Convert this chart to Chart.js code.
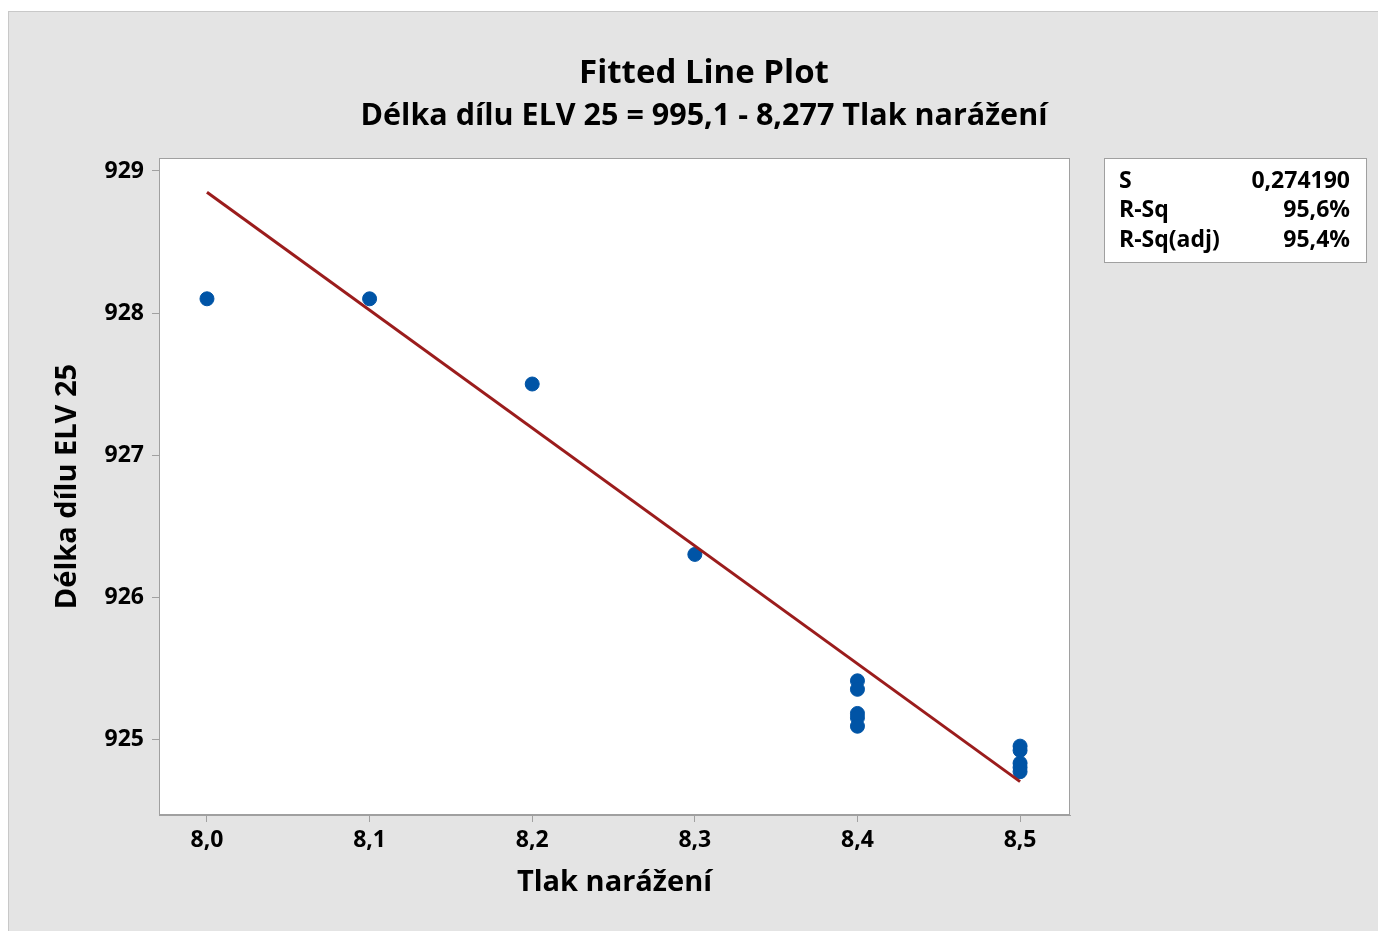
<!DOCTYPE html>
<html>
<head>
<meta charset="utf-8">
<script src="https://cdn.jsdelivr.net/npm/chart.js@4.4.1/dist/chart.umd.min.js"></script>
<style>
  body { margin: 0; background: #ffffff; }
  #frame {
    position: absolute; left: 8px; top: 11px;
    width: 1369px; height: 919px;
    background: #e4e4e4; border: 1px solid #c8c8c8;
  }
  canvas { display: block; }
</style>
</head>
<body>
<div id="frame"><canvas id="grafico" width="1369" height="919"></canvas></div>
<script>
// Datos
const puntosX = [8.0, 8.1, 8.2, 8.3, 8.4, 8.4, 8.4, 8.4, 8.4, 8.5, 8.5, 8.5, 8.5, 8.5];
const puntosY = [928.1, 928.1, 927.5, 926.3, 925.41, 925.35, 925.18, 925.15, 925.09, 924.95, 924.92, 924.83, 924.80, 924.77];

// Recta ajustada (extremos)
const rectaX = [8.0, 8.5];
const rectaY = [928.85, 924.70];

const ticksX = [8.0, 8.1, 8.2, 8.3, 8.4, 8.5];
const ticksY = [925, 926, 927, 928, 929];

const resumenEtiquetas = ['S', 'R-Sq', 'R-Sq(adj)'];
const resumenValores = ['0,274190', '95,6%', '95,4%'];

const FUENTE = '"Open Sans", "Noto Sans", sans-serif';

const fondoYMarco = {
    id: 'fondoYMarco',
    beforeDraw(chart) {
        const { ctx, chartArea: a } = chart;
        ctx.save();
        ctx.fillStyle = '#ffffff';
        ctx.fillRect(a.left, a.top, a.right - a.left, a.bottom - a.top);
        ctx.restore();
    },
    afterDraw(chart) {
        const { ctx, chartArea: a } = chart;
        ctx.save();
        ctx.strokeStyle = '#a0a0a0';
        ctx.lineWidth = 1;
        ctx.strokeRect(a.left + 0.5, a.top + 0.5, a.right - a.left - 1, a.bottom - a.top - 1);

        // titulos
        ctx.fillStyle = '#000';
        ctx.textAlign = 'center';
        ctx.textBaseline = 'middle';
        ctx.font = 'bold 33px ' + FUENTE;
        ctx.fillText('Fitted Line Plot', 695, 62);
        ctx.font = 'bold 30.5px ' + FUENTE;
        ctx.fillText('Délka dílu ELV 25 = 995,1 - 8,277 Tlak narážení', 695, 104);

        // caja resumen
        ctx.fillStyle = '#ffffff';
        ctx.fillRect(1095, 146, 262, 104);
        ctx.strokeStyle = '#a0a0a0';
        ctx.strokeRect(1095.5, 146.5, 262, 104);
        ctx.fillStyle = '#000';
        ctx.font = 'bold 23px ' + FUENTE;
        resumenEtiquetas.forEach((t, i) => {
            const y = 169 + i * 29.5;
            ctx.textAlign = 'left';
            ctx.fillText(t, 1110, y);
            ctx.textAlign = 'right';
            ctx.fillText(resumenValores[i], 1341, y);
        });
        ctx.restore();
    }
};

new Chart(document.getElementById('grafico'), {
    type: 'scatter',
    data: {
        datasets: [
            {
                label: 'Datos',
                data: puntosX.map((x, i) => ({ x: x, y: puntosY[i] })),
                backgroundColor: '#0054a6',
                borderColor: '#0054a6',
                pointRadius: 7,
                order: 2
            },
            {
                label: 'Ajuste',
                type: 'line',
                data: rectaX.map((x, i) => ({ x: x, y: rectaY[i] })),
                borderColor: '#9b1c1c',
                borderWidth: 3,
                pointRadius: 0,
                fill: false,
                order: 1
            }
        ]
    },
    options: {
        responsive: false,
        animation: false,
        layout: { padding: { left: 37, right: 308, top: 146, bottom: 27 } },
        plugins: {
            legend: { display: false },
            tooltip: { enabled: false }
        },
        scales: {
            x: {
                type: 'linear',
                min: 7.9705,
                max: 8.5307,
                afterBuildTicks: s => { s.ticks = ticksX.map(v => ({ value: v })); },
                afterFit: s => { s.height = 89; },
                grid: { drawOnChartArea: false, tickLength: 7, color: '#a0a0a0' },
                border: { display: true, color: '#a0a0a0' },
                ticks: {
                    color: '#000',
                    padding: 5,
                    font: { family: FUENTE, size: 23, weight: 'bold' },
                    callback: v => v.toFixed(1).replace('.', ',')
                },
                title: {
                    display: true,
                    text: 'Tlak narážení',
                    color: '#000',
                    font: { family: FUENTE, size: 29, weight: 'bold' },
                    padding: { top: 6 }
                }
            },
            y: {
                type: 'linear',
                min: 924.465,
                max: 929.0915,
                afterBuildTicks: s => { s.ticks = ticksY.map(v => ({ value: v })); },
                afterFit: s => { s.width = 113; },
                grid: { drawOnChartArea: false, tickLength: 7, color: '#a0a0a0' },
                border: { display: true, color: '#a0a0a0' },
                ticks: {
                    color: '#000',
                    padding: 8,
                    font: { family: FUENTE, size: 23, weight: 'bold' },
                    callback: v => String(v)
                },
                title: {
                    display: true,
                    text: 'Délka dílu ELV 25',
                    color: '#000',
                    font: { family: FUENTE, size: 29, weight: 'bold' },
                    padding: { bottom: 10 }
                }
            }
        }
    },
    plugins: [fondoYMarco]
});
</script>
</body>
</html>
